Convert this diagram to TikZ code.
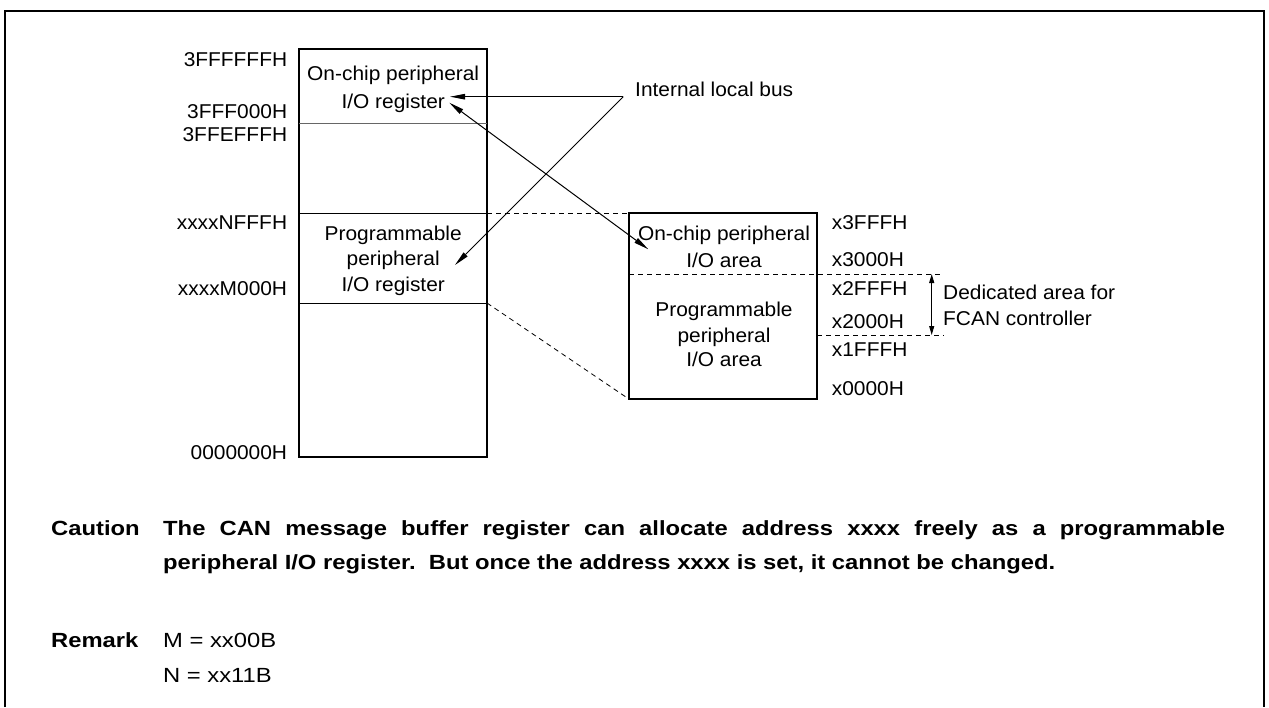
\documentclass[tikz,border=0pt]{standalone}
\usepackage{fontspec}
\setmainfont{Liberation Sans}[FakeStretch=1.045]
\newfontfamily\notefont{Liberation Sans}[FakeStretch=1.16]
\usetikzlibrary{arrows.meta}
\begin{document}
\begin{tikzpicture}[x=1pt,y=-1pt,
  lbl/.style={inner sep=0pt, font=\fontsize{20}{23}\selectfont},
  note/.style={inner sep=0pt, font=\notefont\fontsize{20.5}{24}\selectfont},
  notebold/.style={inner sep=0pt, font=\notefont\bfseries\fontsize{20.5}{24}\selectfont},
  memline/.style={line width=1pt},
  dashln/.style={line width=0.8pt, dash pattern=on 5pt off 4pt},
  conn/.style={line width=1pt, -{Triangle[length=15pt,width=5.5pt]}},
  dconn/.style={line width=1pt, {Triangle[length=15pt,width=5.5pt]}-{Triangle[length=15pt,width=5.5pt]}},
  sconn/.style={line width=1pt, {Triangle[length=9pt,width=5pt]}-{Triangle[length=9pt,width=5pt]}}
]
\useasboundingbox (0,0) rectangle (1269,707);
% outer frame (open at the bottom)
\draw[line width=2pt] (5,707) -- (5,11) -- (1264,11) -- (1264,707);

% ---- left memory map ----
\node[draw, line width=2pt, minimum width=187.7pt, minimum height=408.3pt, inner sep=0pt] (mem) at (393.15,253.15) {};
\draw[memline, black!60] (299.3,123) -- (487,123);
\draw[memline] (299.3,213.3) -- (487,213.3);
\draw[memline] (299.3,303) -- (487,303);
\coordinate (memNtop) at (487,213.3);
\coordinate (memMbot) at (487,303);

\node[lbl, anchor=base east] (a1) at (287.3,66.3) {3FFFFFFH};
\node[lbl, anchor=base east] (a2) at (287.3,118.3) {3FFF000H};
\node[lbl, anchor=base east] (a3) at (287.3,141.7) {3FFEFFFH};
\node[lbl, anchor=base east] (a4) at (287.3,229) {xxxxNFFFH};
\node[lbl, anchor=base east] (a5) at (287.3,295) {xxxxM000H};
\node[lbl, anchor=base east] (a6) at (287.3,459) {0000000H};

\node[lbl, anchor=base] (t1) at (393.2,80.7) {On-chip peripheral};
\node[lbl, anchor=base] (t2) at (393.2,108.3) {I/O register};
\node[lbl, anchor=base] (t3) at (393.2,240.7) {Programmable};
\node[lbl, anchor=base] (t4) at (393.2,265.7) {peripheral};
\node[lbl, anchor=base] (t5) at (393.2,291) {I/O register};

% ---- right area ----
\node[draw, line width=2pt, minimum width=188pt, minimum height=186pt, inner sep=0pt] (area) at (723.3,306.3) {};
\coordinate (areaTL) at (629.3,213.3);
\coordinate (areaBL) at (629.3,399.3);
\draw[dashln] (629.3,274) -- (940,274);
\draw[dashln] (817.3,335) -- (944,335);
\coordinate (dedTop) at (931.7,274);
\coordinate (dedBot) at (931.7,335);
\draw[sconn] (dedTop) -- (dedBot);

\node[lbl, anchor=base] (r1) at (724,240) {On-chip peripheral};
\node[lbl, anchor=base] (r2) at (724,267.7) {I/O area};
\node[lbl, anchor=base] (r3) at (724,316.7) {Programmable};
\node[lbl, anchor=base] (r4) at (724,342.7) {peripheral};
\node[lbl, anchor=base] (r5) at (724,366.7) {I/O area};

\node[lbl, anchor=base west] (b1) at (831.7,229.3) {x3FFFH};
\node[lbl, anchor=base west] (b2) at (831.7,266.7) {x3000H};
\node[lbl, anchor=base west] (b3) at (831.7,295) {x2FFFH};
\node[lbl, anchor=base west] (b4) at (831.7,328.3) {x2000H};
\node[lbl, anchor=base west] (b5) at (831.7,356) {x1FFFH};
\node[lbl, anchor=base west] (b6) at (831.7,395) {x0000H};

\node[lbl, anchor=base west] (d1) at (943,299) {Dedicated area for};
\node[lbl, anchor=base west] (d2) at (943,325.7) {FCAN controller};

% mapping dashed lines
\draw[dashln] (memNtop) -- (areaTL);
\draw[dashln] (memMbot) -- (areaBL);

% ---- internal local bus ----
\node[lbl, anchor=base west] (bus) at (635,96) {Internal local bus};
\coordinate (busj) at (623.3,96.7);
\coordinate (tipA) at (450,96.7);
\coordinate (tipB) at (455,265);
\coordinate (dblA) at (449.3,102.7);
\coordinate (dblB) at (648.3,249.3);
\draw[conn] (busj) -- (tipA);
\draw[conn] (busj) -- (tipB);
\draw[dconn] (dblA) -- (dblB);

% ---- notes ----
\node[notebold, anchor=base west] (cau) at (51,535) {Caution};
\node[notebold, anchor=base west] (cau1) at (163,535) {\makebox[1062pt][s]{The CAN message buffer register can allocate address xxxx freely as a programmable}};
\node[notebold, anchor=base west] (cau2) at (163,569) {peripheral I/O register.\ \ But once the address xxxx is set, it cannot be changed.};
\node[notebold, anchor=base west] (rem) at (51,647) {Remark};
\node[note, anchor=base west] (rem1) at (163,647) {M = xx00B};
\node[note, anchor=base west] (rem2) at (163,682.3) {N = xx11B};
\end{tikzpicture}
\end{document}
